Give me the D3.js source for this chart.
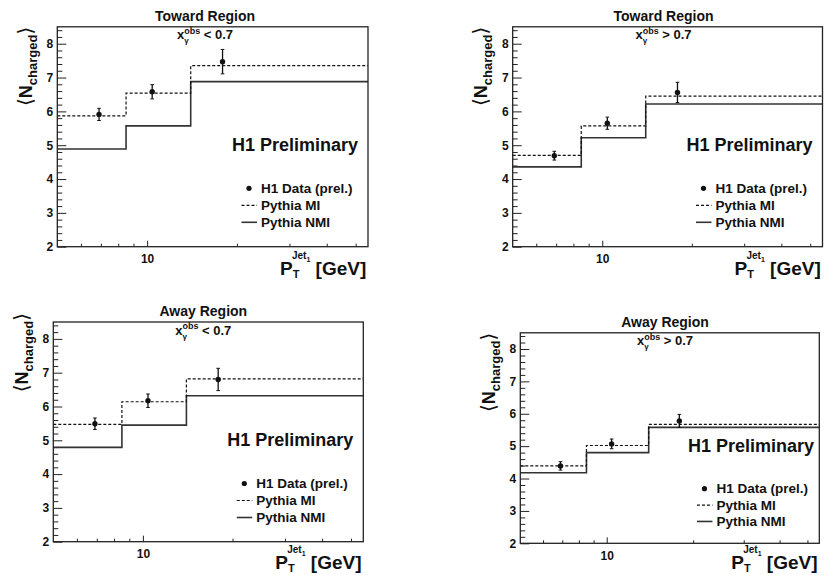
<!DOCTYPE html>
<html>
<head>
<meta charset="utf-8">
<script src="https://cdn.jsdelivr.net/npm/d3@7"></script>
<style>
  body { margin: 0; background: #fff; }
  svg text { font-family: "Liberation Sans", Arial, Helvetica, sans-serif; font-weight: bold; fill: #111; }
</style>
</head>
<body>
<div id="container"></div>
<script>
/* DATA */
const ptEdges = [5, 8.5, 14, 55];        // P_T jet bins [GeV]
const ptMean = [6.9, 10.4, 17.9];        // where the data points sit
const xMajorTicks = [10];
const xMinorTicks = [6, 7, 8, 9, 20, 30, 40, 50];
const yMajorTicks = [2, 3, 4, 5, 6, 7, 8];

// Toward region, x_gamma < 0.7
const towardLowData = [5.91, 6.58, 7.47];
const towardLowErr = [0.18, 0.21, 0.36];
const towardLowMI = [5.87, 6.54, 7.35];
const towardLowNMI = [4.89, 5.57, 6.88];

// Toward region, x_gamma > 0.7
const towardHighData = [4.69, 5.65, 6.56];
const towardHighErr = [0.13, 0.18, 0.30];
const towardHighMI = [4.70, 5.57, 6.45];
const towardHighNMI = [4.36, 5.22, 6.22];

// Away region, x_gamma < 0.7
const awayLowData = [5.49, 6.17, 6.80];
const awayLowErr = [0.17, 0.20, 0.33];
const awayLowMI = [5.47, 6.14, 6.82];
const awayLowNMI = [4.79, 5.45, 6.32];

// Away region, x_gamma > 0.7
const awayHighData = [4.39, 5.07, 5.78];
const awayHighErr = [0.13, 0.15, 0.20];
const awayHighMI = [4.39, 5.02, 5.67];
const awayHighNMI = [4.18, 4.80, 5.58];

const legendLabels = ["H1 Data (prel.)", "Pythia MI", "Pythia NMI"];

/* LAYOUT */
const width = 824, height = 575;
const panels = [
  { title: "Toward Region", cut: "< 0.7", data: towardLowData, err: towardLowErr, mi: towardLowMI, nmi: towardLowNMI,
    x0: 57.3, x1: 368, y0: 26.8, y1: 246.7, cx: 205, s: 1, ylab: 0, xlab: 28 },
  { title: "Toward Region", cut: "> 0.7", data: towardHighData, err: towardHighErr, mi: towardHighMI, nmi: towardHighNMI,
    x0: 512.7, x1: 822.5, y0: 26.8, y1: 246.7, cx: 663.5, s: 1, ylab: 0, xlab: 28 },
  { title: "Away Region", cut: "< 0.7", data: awayLowData, err: awayLowErr, mi: awayLowMI, nmi: awayLowNMI,
    x0: 53.3, x1: 363.3, y0: 322, y1: 541.7, cx: 203.3, s: 1, ylab: -9, xlab: 27 },
  { title: "Away Region", cut: "> 0.7", data: awayHighData, err: awayHighErr, mi: awayHighMI, nmi: awayHighNMI,
    x0: 520.3, x1: 819.3, y0: 332.8, y1: 543.3, cx: 665, s: 0.965, ylab: 0, xlab: 25.5 }
];

const svg = d3.select("#container")
  .append("svg")
  .attr("width", width)
  .attr("height", height);

svg.append("rect").attr("width", width).attr("height", height).attr("fill", "#fff");

panels.forEach(drawPanel);

function drawPanel(p) {
  const s = p.s;
  const g = svg.append("g");

  const xScale = d3.scaleLog().domain([ptEdges[0], ptEdges[ptEdges.length - 1]]).range([p.x0, p.x1]);
  const yScale = d3.scaleLinear().domain([2, 8.5]).range([p.y1, p.y0]);

  // y axis, ticks inside the frame
  const yMinor = d3.range(2, 8.5001, 0.2).filter(v => Math.abs(v - Math.round(v)) > 0.01);
  g.append("g")
    .attr("transform", `translate(${p.x0},0)`)
    .call(d3.axisLeft(yScale).tickValues(yMinor).tickSize(-5).tickFormat(""))
    .call(a => a.select(".domain").remove());
  g.append("g")
    .attr("transform", `translate(${p.x0},0)`)
    .call(d3.axisLeft(yScale).tickValues(yMajorTicks).tickSize(-9).tickPadding(4).tickFormat(d3.format("d")))
    .call(a => a.select(".domain").remove())
    .call(a => a.selectAll("text").attr("font-size", 12).attr("font-family", null));

  // x axis
  g.append("g")
    .attr("transform", `translate(0,${p.y1})`)
    .call(d3.axisBottom(xScale).tickValues(xMinorTicks).tickSize(-3).tickFormat(""))
    .call(a => a.select(".domain").remove());
  g.append("g")
    .attr("transform", `translate(0,${p.y1})`)
    .call(d3.axisBottom(xScale).tickValues(xMajorTicks).tickSize(-6).tickPadding(8).tickFormat(d3.format("d")))
    .call(a => a.select(".domain").remove())
    .call(a => a.selectAll("text").attr("font-size", 12).attr("font-family", null));

  g.selectAll(".tick line").attr("stroke", "#222");

  // histograms
  const steps = vals => ptEdges.map((e, i) => [e, vals[Math.min(i, vals.length - 1)]]);
  const line = d3.line()
    .x(d => xScale(d[0]))
    .y(d => yScale(d[1]))
    .curve(d3.curveStepAfter);

  g.append("path")
    .attr("d", line(steps(p.nmi)))
    .attr("fill", "none")
    .attr("stroke", "#333")
    .attr("stroke-width", 1.6);

  g.append("path")
    .attr("d", line(steps(p.mi)))
    .attr("fill", "none")
    .attr("stroke", "#111")
    .attr("stroke-width", 1.2)
    .attr("stroke-dasharray", "3,2");

  // data points with error bars
  const pts = g.selectAll(".pt")
    .data(p.data.map((v, i) => ({ x: ptMean[i], v: v, e: p.err[i] })))
    .join("g")
    .attr("class", "pt");
  pts.append("line")
    .attr("x1", d => xScale(d.x)).attr("x2", d => xScale(d.x))
    .attr("y1", d => yScale(d.v - d.e)).attr("y2", d => yScale(d.v + d.e))
    .attr("stroke", "#111").attr("stroke-width", 1.3);
  [-1, 1].forEach(sign => {
    pts.append("line")
      .attr("x1", d => xScale(d.x) - 1.8).attr("x2", d => xScale(d.x) + 1.8)
      .attr("y1", d => yScale(d.v + sign * d.e)).attr("y2", d => yScale(d.v + sign * d.e))
      .attr("stroke", "#111").attr("stroke-width", 1);
  });
  pts.append("circle")
    .attr("cx", d => xScale(d.x)).attr("cy", d => yScale(d.v))
    .attr("r", 2.7).attr("fill", "#111");

  // frame
  g.append("rect")
    .attr("x", p.x0).attr("y", p.y0)
    .attr("width", p.x1 - p.x0).attr("height", p.y1 - p.y0)
    .attr("fill", "none").attr("stroke", "#222").attr("stroke-width", 1.3);

  // title + cut
  g.append("text")
    .attr("x", p.cx).attr("y", p.y0 - 6.3)
    .attr("text-anchor", "middle").attr("font-size", 14)
    .text(p.title);

  const cut = g.append("text")
    .attr("x", p.cx).attr("y", p.y0 + 12.5)
    .attr("text-anchor", "middle").attr("font-size", 13);
  cut.append("tspan").text("x");
  cut.append("tspan").attr("font-size", 8).attr("dy", 4).text("γ");
  cut.append("tspan").attr("font-size", 9).attr("dx", -4.5).attr("dy", -9.5).text("obs");
  cut.append("tspan").attr("dy", 5.5).text(" " + p.cut);

  // H1 Preliminary
  g.append("text")
    .attr("x", p.x1 - 136 * s).attr("y", p.y0 + 124 * s)
    .attr("font-size", 18)
    .text("H1 Preliminary");

  // legend
  const lx = p.x1 - 119 * s, ly = p.y0 + 161.5 * s, dy = 17 * s;
  g.append("circle").attr("cx", lx).attr("cy", ly).attr("r", 2.6).attr("fill", "#111");
  g.append("line")
    .attr("x1", lx - 7.5).attr("x2", lx + 8).attr("y1", ly + dy).attr("y2", ly + dy)
    .attr("stroke", "#111").attr("stroke-width", 1.2).attr("stroke-dasharray", "3,2");
  g.append("line")
    .attr("x1", lx - 7.5).attr("x2", lx + 8).attr("y1", ly + 2 * dy).attr("y2", ly + 2 * dy)
    .attr("stroke", "#333").attr("stroke-width", 1.6);
  g.selectAll(".leg")
    .data(legendLabels)
    .join("text")
    .attr("class", "leg")
    .attr("x", lx + 12)
    .attr("y", (d, i) => ly + i * dy + 4.8)
    .attr("font-size", 13.5)
    .text(d => d);

  // x axis title
  const xt = g.append("text")
    .attr("x", p.x1 - 88).attr("y", p.y1 + p.xlab)
    .attr("font-size", 19);
  xt.append("tspan").text("P");
  xt.append("tspan").attr("font-size", 11).attr("dy", 3).text("T");
  xt.append("tspan").attr("font-size", 10).attr("dx", -7.5).attr("dy", -18.7).text("Jet");
  xt.append("tspan").attr("font-size", 7).attr("dy", 2.5).text("1");
  xt.append("tspan").attr("dy", 13.2).text(" [GeV]");

  // y axis title
  const yt = g.append("text")
    .attr("transform", `translate(${p.x0 - 25.6},${p.y0 + p.ylab}) rotate(-90)`)
    .attr("text-anchor", "end")
    .attr("font-size", 18);
  yt.append("tspan").attr("font-weight", "normal").attr("font-family", "DejaVu Sans").attr("font-size", 20).text("⟨");
  yt.append("tspan").text("N");
  yt.append("tspan").attr("font-size", 13).attr("dy", 5).text("charged");
  yt.append("tspan").attr("font-weight", "normal").attr("font-family", "DejaVu Sans").attr("font-size", 20).attr("dy", -5).text("⟩");
}
</script>
</body>
</html>
